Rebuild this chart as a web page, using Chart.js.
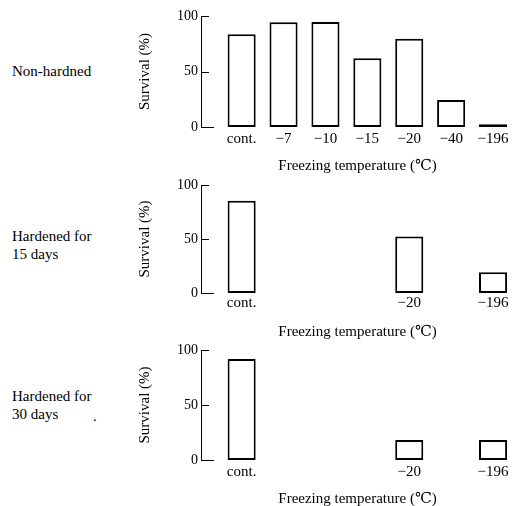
<!DOCTYPE html>
<html>
<head>
<meta charset="utf-8">
<script src="https://cdn.jsdelivr.net/npm/chart.js@4.4.0/dist/chart.umd.min.js"></script>
<style>
  html, body { margin: 0; padding: 0; background: #fff; overflow: hidden; }
  body { width: 517px; height: 506px; position: relative; font-family: 'Liberation Serif', 'DejaVu Serif', serif; font-size: 15px; color: #000; }
  .panel { position: absolute; left: 0; width: 517px; }
  .side { position: absolute; left: 12px; line-height: 18px; white-space: nowrap; }
</style>
</head>
<body>
<div class="side" style="top:62px">Non-hardned</div>
<div class="side" style="top:227px">Hardened for<br>15 days</div>
<div class="side" style="top:387px">Hardened for<br>30 days</div>
<div class="side" style="top:407px;left:93px">.</div>

<div class="panel" style="top:0px"><canvas id="c1" width="517" height="175"></canvas></div>
<div class="panel" style="top:170px"><canvas id="c2" width="517" height="171"></canvas></div>
<div class="panel" style="top:335px"><canvas id="c3" width="517" height="173"></canvas></div>

<script>
// freezing temperatures on the x axis
const categories = ['cont.', '\u22127', '\u221210', '\u221215', '\u221220', '\u221240', '\u2212196'];

// survival (%) per treatment, null = not tested
const nonHardened = [83.5, 94.3, 94.6, 61.9, 79.5, 24.3, 2.4];
const hardened15 = [85.5, null, null, null, 52.4, null, 19.1];
const hardened30 = [91.8, null, null, null, 18.2, null, 18.2];

const yTicks = [0, 50, 100];

const serif = "'Liberation Serif', 'DejaVu Serif', serif";

// tick marks drawn inward from the y axis, like the original figure
const innerTicks = {
  id: 'innerTicks',
  afterDraw(chart) {
    const { ctx, chartArea, scales: { y } } = chart;
    ctx.save();
    ctx.strokeStyle = '#000';
    ctx.lineWidth = 1;
    y.ticks.forEach((t) => {
      const py = Math.round(y.getPixelForValue(t.value)) + 0.5;
      const len = t.value === 0 ? 13 : 8;
      ctx.beginPath();
      ctx.moveTo(chartArea.left, py);
      ctx.lineTo(chartArea.left + len, py);
      ctx.stroke();
    });
    ctx.restore();
  }
};

function makeChart(id, values, areaTop, labelPad) {
  const ctx = document.getElementById(id).getContext('2d');
  return new Chart(ctx, {
    type: 'bar',
    data: {
      datasets: [{
        data: values.map((v, i) => ({ x: i, y: v })),
        backgroundColor: '#fff',
        borderColor: '#000',
        borderWidth: 2,
        borderSkipped: false,
        barPercentage: 0.67,
        categoryPercentage: 1
      }]
    },
    options: {
      responsive: false,
      animation: false,
      layout: { padding: { left: 130, right: 3, top: areaTop, bottom: 0 } },
      plugins: { legend: { display: false }, tooltip: { enabled: false } },
      scales: {
        x: {
          type: 'linear',
          offset: false,
          min: -0.97,
          max: 6.5,
          grid: { display: false, drawTicks: false },
          border: { display: false },
          ticks: {
            stepSize: 1,
            includeBounds: false,
            autoSkip: false,
            maxRotation: 0,
            padding: labelPad,
            color: '#000',
            font: { family: serif, size: 15 },
            callback: (v) => (Number.isInteger(v) && values[v] != null ? categories[v] : '')
          },
          title: {
            display: true,
            text: 'Freezing temperature (\u2103)',
            color: '#000',
            font: { family: serif, size: 15 },
            padding: { top: 0, bottom: 0 }
          },
          afterFit: (s) => { s.height = 48; }
        },
        y: {
          min: 0,
          max: 100,
          afterBuildTicks: (s) => { s.ticks = yTicks.map((v) => ({ value: v })); },
          grid: { display: false, drawTicks: false },
          border: { display: true, color: '#000', width: 1 },
          ticks: { padding: 3, color: '#000', font: { family: serif, size: 14 } },
          title: {
            display: true,
            text: 'Survival (%)',
            color: '#000',
            font: { family: serif, size: 15 },
            padding: { top: 6, bottom: 0 }
          },
          afterFit: (s) => { s.width = 71; }
        }
      }
    },
    plugins: [innerTicks]
  });
}

makeChart('c1', nonHardened, 16, 3);
makeChart('c2', hardened15, 15, 1);
makeChart('c3', hardened30, 15, 3);
</script>
</body>
</html>
